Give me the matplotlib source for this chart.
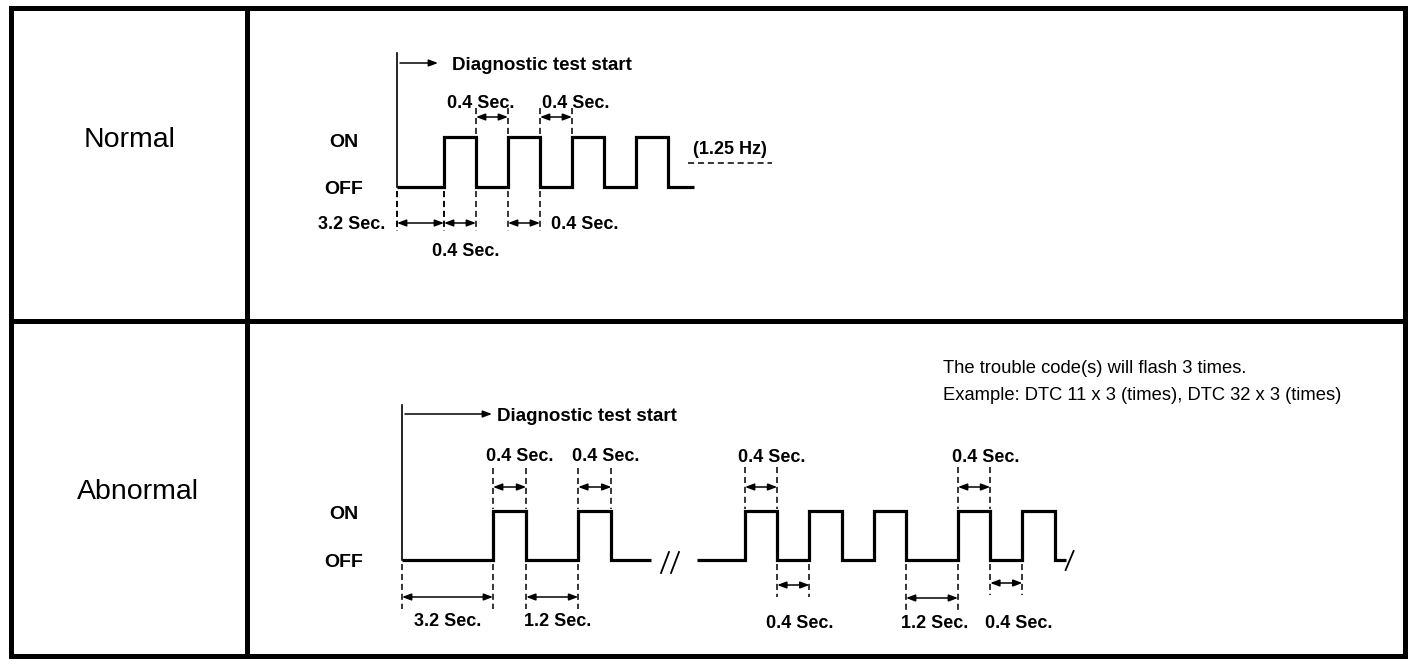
import matplotlib
matplotlib.use('Agg')
import matplotlib.pyplot as plt

# ---------------- data ----------------
row_labels = ['Normal', 'Abnormal']
level_labels = ['ON', 'OFF']
start_label = 'Diagnostic test start'
freq_label = '(1.25 Hz)'
note_lines = ['The trouble code(s) will flash 3 times.',
              'Example: DTC 11 x 3 (times), DTC 32 x 3 (times)']

# state per segment (1 = ON, 0 = OFF) and its duration in seconds
# None = open-ended lead-in / tail of the trace
normal_states = [0, 1, 0, 1, 0, 1, 0, 1, 0]
normal_secs = [3.2, 0.4, 0.4, 0.4, 0.4, 0.4, 0.4, 0.4, None]

abn1_states = [0, 1, 0, 1, 0]
abn1_secs = [3.2, 0.4, 1.2, 0.4, None]

abn2_states = [0, 1, 0, 1, 0, 1, 0, 1, 0, 1, 0]
abn2_secs = [None, 0.4, 0.4, 0.4, 0.4, 0.4, 1.2, 0.4, 0.4, 0.4, None]

# dimension marks: (edge_from, edge_to, seconds)
normal_dims_above = [(2, 3, 0.4), (4, 5, 0.4)]
normal_dims_below = [(0, 1, 3.2), (1, 2, 0.4), (3, 4, 0.4)]
abn1_dims_above = [(1, 2, 0.4), (3, 4, 0.4)]
abn1_dims_below = [(0, 1, 3.2), (2, 3, 1.2)]
abn2_dims_above = [(1, 2, 0.4), (7, 8, 0.4)]
abn2_dims_below = [(2, 3, 0.4), (6, 7, 1.2), (8, 9, 0.4)]

# ---------------- layout / style ----------------
W, H, DPI = 1424, 670, 100
FONT = 'Liberation Sans'
SMALL = 13.0
frame = dict(left=10.5, right=1404.5, top=7.5, bottom=656, vdiv=246.5, hdiv=320.5)

fig = plt.figure(figsize=(W / DPI, H / DPI), dpi=DPI)
ax = fig.add_axes([0, 0, 1, 1])
ax.set_xlim(0, W)
ax.set_ylim(H, 0)
ax.axis('off')


def px(pt):
    return pt * DPI / 72.0


def text_c(x, y, s, size=SMALL, ha='center', weight='bold'):
    """place text so that the middle of its cap height sits on y"""
    ax.text(x, y + 0.716 * px(size) / 2, s, ha=ha, va='baseline', fontsize=size,
            family=FONT, weight=weight, color='black')


def sec_label(s):
    return f'{s} Sec.'


def edges_of(secs, lay):
    e = [lay['x0']]
    for i, s in enumerate(secs):
        if s is None:
            L = lay['lead_px'] if i == 0 else lay['tail_px']
        else:
            L = lay.get('compress', {}).get(s, s * lay['pps'])
        e.append(e[-1] + L)
    return e


def draw_wave(states, secs, lay):
    e = edges_of(secs, lay)
    ylev = {1: lay['y_on'], 0: lay['y_off']}
    xs, ys = [], []
    for i, st in enumerate(states):
        xs += [e[i], e[i + 1]]
        ys += [ylev[st], ylev[st]]
    ax.plot(xs, ys, color='black', lw=2.3, solid_joinstyle='miter', solid_capstyle='butt')
    return e


DASH = dict(color='black', lw=1.1, dashes=(4, 2.5))


def arrow(x1, x2, y, both=True):
    style = '<|-|>' if both else '-|>'
    ax.annotate('', xy=(x2, y), xytext=(x1, y),
                arrowprops=dict(arrowstyle=style + ',head_length=0.45,head_width=0.17',
                                mutation_scale=12, lw=1.1, color='black',
                                shrinkA=0, shrinkB=0))


def dims(e, spec, lay, where, arrow_ys, label_dx, label_ys):
    for k, (a, b, s) in enumerate(spec):
        ay = arrow_ys[k]
        for idx in (a, b):
            if where == 'above':
                ax.plot([e[idx], e[idx]], [ay - lay['over_above'], lay['y_on'] - 2], **DASH)
            else:
                ax.plot([e[idx], e[idx]], [lay['y_off'] + 4, ay + lay['over_below']], **DASH)
        arrow(e[a], e[b], ay)
        text_c((e[a] + e[b]) / 2 + label_dx[k], label_ys[k], sec_label(s))


# ---------------- frame ----------------
fl = 3.6
f = frame
ax.plot([f['left'], f['right'], f['right'], f['left'], f['left']],
        [f['top'], f['top'], f['bottom'], f['bottom'], f['top']],
        color='black', lw=fl, solid_joinstyle='miter')
ax.plot([f['vdiv'], f['vdiv']], [f['top'], f['bottom']], color='black', lw=fl)
ax.plot([f['left'], f['right']], [f['hdiv'], f['hdiv']], color='black', lw=fl)

text_c(130, 137, row_labels[0], size=20.5, weight='normal')
text_c(138, 489, row_labels[1], size=20.5, weight='normal')

LEV = 14.0

# ---------------- Normal ----------------
nl = dict(x0=397, y_on=137, y_off=187, pps=80, compress={3.2: 47}, tail_px=26,
          over_above=9, over_below=8, start_top=53, start_arrow_y=63, start_arrow_end=438,
          start_text_x=452)
e = draw_wave(normal_states, normal_secs, nl)
ax.plot([nl['x0'], nl['x0']], [nl['start_top'], nl['y_off']], color='black', lw=1.2)
arrow(nl['x0'] + 3, nl['start_arrow_end'], nl['start_arrow_y'], both=False)
text_c(nl['start_text_x'], nl['start_arrow_y'], start_label, size=13.5, ha='left')
text_c(344, nl['y_on'] + 3, level_labels[0], size=LEV)
text_c(344, nl['y_off'], level_labels[1], size=LEV)
dims(e, normal_dims_above, nl, 'above', [117, 117], [-11, 20], [102, 102])
ax.plot([nl['x0'], nl['x0']], [nl['y_off'] + 4, 231], **DASH)
dims(e, normal_dims_below, nl, 'below', [223, 223, 223], [-69, 6, 61], [223, 250, 223])
text_c(730, 148, freq_label)
ax.plot([688, 772], [163, 163], **DASH)

# ---------------- Abnormal ----------------
a1 = dict(x0=402, y_on=511, y_off=560, pps=83, compress={3.2: 91, 1.2: 52}, tail_px=40,
          over_above=19, over_below=12, start_top=405, start_arrow_y=414, start_arrow_end=492,
          start_text_x=497)
e1 = draw_wave(abn1_states, abn1_secs, a1)
ax.plot([a1['x0'], a1['x0']], [a1['start_top'], a1['y_off']], color='black', lw=1.2)
arrow(a1['x0'] + 3, a1['start_arrow_end'], a1['start_arrow_y'], both=False)
text_c(a1['start_text_x'], a1['start_arrow_y'], start_label, size=13.5, ha='left')
text_c(344, a1['y_on'] + 1, level_labels[0], size=LEV)
text_c(344, a1['y_off'], level_labels[1], size=LEV)
dims(e1, abn1_dims_above, a1, 'above', [487, 487], [10, 11], [455, 455])
dims(e1, abn1_dims_below, a1, 'below', [597, 597], [0, 5], [620, 620])

# break marks
for bx in (665, 675):
    ax.plot([bx - 4, bx + 4], [573, 552], color='black', lw=1.3)

a2 = dict(x0=697, y_on=511, y_off=560, pps=80.5, compress={1.2: 52}, lead_px=48, tail_px=11,
          over_above=20, over_below=12)
e2 = draw_wave(abn2_states, abn2_secs, a2)
ax.plot([e2[-1], e2[-1] + 8], [a2['y_off'] + 10, a2['y_off'] - 9], color='black', lw=1.3)
dims(e2, abn2_dims_above, a2, 'above', [487, 487], [11, 12], [456, 456])
dims(e2, abn2_dims_below, a2, 'below', [585, 598, 583], [6, 3, 12], [622, 622, 622])

text_c(943, 366, note_lines[0], size=13.2, ha='left', weight='normal')
text_c(943, 393, note_lines[1], size=13.2, ha='left', weight='normal')

fig.savefig('out.png', dpi=DPI)
